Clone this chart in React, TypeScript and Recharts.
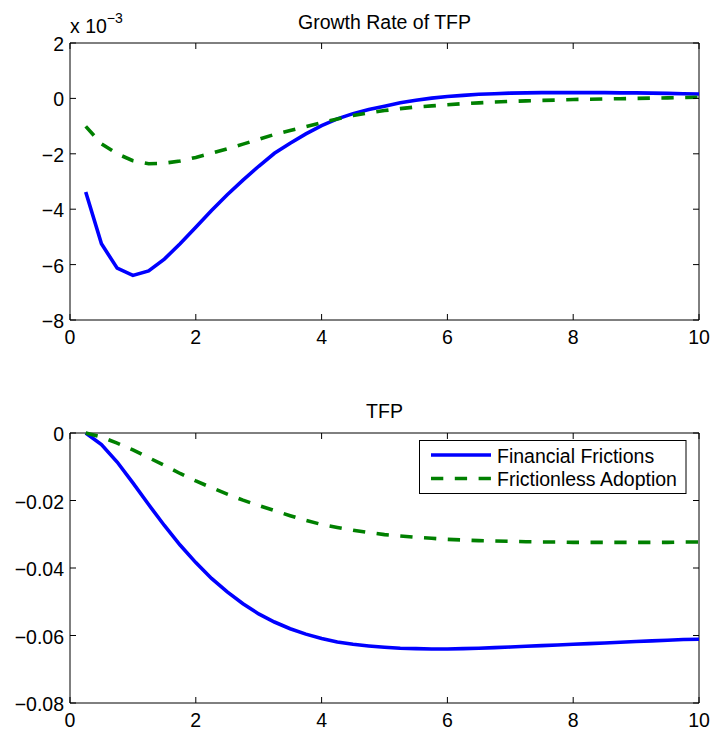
import React from "react";
import { LineChart, Line, XAxis, YAxis, Legend, ReferenceArea } from "recharts";

// Horizon in years (quarterly steps)
const quarters = [
  0.25, 0.5, 0.75, 1.0, 1.25, 1.5, 1.75, 2.0, 2.25, 2.5,
  2.75, 3.0, 3.25, 3.5, 3.75, 4.0, 4.25, 4.5, 4.75, 5.0,
  5.25, 5.5, 5.75, 6.0, 6.25, 6.5, 6.75, 7.0, 7.25, 7.5,
  7.75, 8.0, 8.25, 8.5, 8.75, 9.0, 9.25, 9.5, 9.75, 10.0,
];

// Growth rate of TFP, in units of 10^-3
const growthFrictions = [
  -3.38, -5.25, -6.13, -6.39, -6.23, -5.8, -5.25, -4.65, -4.05, -3.48,
  -2.95, -2.45, -1.98, -1.62, -1.28, -0.98, -0.74, -0.55, -0.4, -0.28,
  -0.16, -0.07, 0.01, 0.07, 0.11, 0.15, 0.17, 0.19, 0.2, 0.21,
  0.21, 0.21, 0.21, 0.21, 0.2, 0.2, 0.19, 0.18, 0.17, 0.16,
];
const growthFrictionless = [
  -1.01, -1.64, -2.0, -2.25, -2.36, -2.34, -2.26, -2.13, -1.98, -1.82,
  -1.65, -1.48, -1.3, -1.16, -1.02, -0.88, -0.74, -0.62, -0.52, -0.44,
  -0.37, -0.31, -0.27, -0.23, -0.19, -0.16, -0.13, -0.11, -0.09, -0.07,
  -0.06, -0.04, -0.03, -0.02, -0.01, 0.0, 0.01, 0.02, 0.03, 0.04,
];

// TFP level
const tfpFrictions = [
  0, -0.0034, -0.0086, -0.0148, -0.0212, -0.0274, -0.0332, -0.0384, -0.0431, -0.0471,
  -0.0506, -0.0536, -0.056, -0.058, -0.0596, -0.0609, -0.0619, -0.0626, -0.0631, -0.0635,
  -0.0638, -0.0639, -0.064, -0.064, -0.0639, -0.0638, -0.0636, -0.0634, -0.0632, -0.063,
  -0.0628, -0.0626, -0.0624, -0.0622, -0.062, -0.0618, -0.0616, -0.0614, -0.0612, -0.0611,
];
const tfpFrictionless = [
  0, -0.0012, -0.003, -0.005, -0.0073, -0.0096, -0.012, -0.0142, -0.0162, -0.0181,
  -0.0199, -0.0215, -0.023, -0.0245, -0.0259, -0.0271, -0.028, -0.0288, -0.0295, -0.0301,
  -0.0305, -0.0309, -0.0312, -0.0315, -0.0317, -0.0319, -0.032, -0.0321, -0.0322, -0.0323,
  -0.0323, -0.0324, -0.0324, -0.0324, -0.0324, -0.0324, -0.0324, -0.0324, -0.0323, -0.0323,
];

const xTicks = [0, 2, 4, 6, 8, 10];
const growthTicks = [-8, -6, -4, -2, 0, 2];
const tfpTicks = [-0.08, -0.06, -0.04, -0.02, 0];
const seriesNames = ["Financial Frictions", "Frictionless Adoption"];

const growthRows = quarters.map((t, i) => ({
  t,
  ff: growthFrictions[i],
  fa: growthFrictionless[i],
}));
const tfpRows = quarters.map((t, i) => ({
  t,
  ff: tfpFrictions[i],
  fa: tfpFrictionless[i],
}));

const FONT = '"Liberation Sans", Arial, Helvetica, sans-serif';
const FONT_SIZE = 19.5;
const BLUE = "#0000ff";
const GREEN = "#008000";
const DASH = "12.3 11.5";
const LINE_W = 3.6;
const TICK_LEN = 6;
const WIDTH = 713;
const PLOT_LEFT = 70;
const PLOT_RIGHT = 699;

const minus = (s: string) => s.replace("-", "\u2212");

function makeXTick(plotTop: number) {
  return (props: any) => {
    const { x, y, payload } = props;
    return (
      <g>
        <line x1={x} y1={y} x2={x} y2={y - TICK_LEN} stroke="#000" strokeWidth={1} />
        <line x1={x} y1={plotTop} x2={x} y2={plotTop + TICK_LEN} stroke="#000" strokeWidth={1} />
        <text x={x} y={y + 23.5} textAnchor="middle" fontSize={FONT_SIZE} fontFamily={FONT} fill="#000">
          {String(payload.value)}
        </text>
      </g>
    );
  };
}

function makeYTick(fmt: (v: number) => string) {
  return (props: any) => {
    const { x, y, payload } = props;
    return (
      <g>
        <line x1={x} y1={y} x2={x + TICK_LEN} y2={y} stroke="#000" strokeWidth={1} />
        <line x1={PLOT_RIGHT} y1={y} x2={PLOT_RIGHT - TICK_LEN} y2={y} stroke="#000" strokeWidth={1} />
        <text x={x - 6} y={y + 8} textAnchor="end" fontSize={FONT_SIZE} fontFamily={FONT} fill="#000">
          {fmt(payload.value)}
        </text>
      </g>
    );
  };
}

const fmtGrowth = (v: number) => minus(String(v));
const fmtTfp = (v: number) => (v === 0 ? "0" : minus(v.toFixed(2)));

function LegendBox(props: any) {
  const items = props.payload && props.payload.length ? props.payload : [];
  const rows = seriesNames.map((name, i) => {
    const item = items.find((p: any) => p.value === name);
    return {
      name,
      color: item ? item.color : i === 0 ? BLUE : GREEN,
      dashed: i === 1,
    };
  });
  return (
    <svg width={268} height={55} style={{ display: "block" }}>
      <rect x={0.5} y={0.5} width={266.5} height={53} fill="#fff" stroke="#000" strokeWidth={1} />
      {rows.map((r, i) => {
        const cy = i === 0 ? 15 : 38.5;
        return (
          <g key={r.name}>
            <line
              x1={12}
              x2={72}
              y1={cy}
              y2={cy}
              stroke={r.color}
              strokeWidth={LINE_W}
              strokeDasharray={r.dashed ? DASH : undefined}
            />
            <text x={78} y={cy + 7.5} fontSize={FONT_SIZE} fontFamily={FONT} fill="#000">
              {r.name}
            </text>
          </g>
        );
      })}
    </svg>
  );
}

export default function App() {
  return (
    <div
      style={{
        position: "absolute",
        left: 0,
        top: 0,
        width: WIDTH,
        height: 733,
        background: "#fff",
        fontFamily: FONT,
      }}
    >
      <div style={{ position: "absolute", left: 0, top: 0 }}>
        <LineChart
          width={WIDTH}
          height={366}
          data={growthRows}
          margin={{ top: 43, right: WIDTH - PLOT_RIGHT, bottom: 0, left: 0 }}
        >
          <XAxis
            dataKey="t"
            type="number"
            domain={[0, 10]}
            ticks={xTicks}
            height={46}
            axisLine={false}
            tickLine={false}
            tickSize={0}
            tickMargin={0}
            tick={makeXTick(43)}
            interval={0}
          />
          <YAxis
            type="number"
            domain={[-8, 2]}
            ticks={growthTicks}
            width={PLOT_LEFT}
            axisLine={false}
            tickLine={false}
            tickSize={0}
            tickMargin={0}
            tick={makeYTick(fmtGrowth)}
            interval={0}
          />
          <ReferenceArea x1={0} x2={10} y1={-8} y2={2} fill="none" fillOpacity={0} stroke="#000" strokeWidth={1} />
          <Line
            type="linear"
            dataKey="ff"
            name={seriesNames[0]}
            stroke={BLUE}
            strokeWidth={LINE_W}
            dot={false}
            activeDot={false}
            isAnimationActive={false}
          />
          <Line
            type="linear"
            dataKey="fa"
            name={seriesNames[1]}
            stroke={GREEN}
            strokeWidth={LINE_W}
            strokeDasharray={DASH}
            dot={false}
            activeDot={false}
            isAnimationActive={false}
          />
        </LineChart>
      </div>

      <div style={{ position: "absolute", left: 0, top: 366 }}>
        <LineChart
          width={WIDTH}
          height={367}
          data={tfpRows}
          margin={{ top: 67, right: WIDTH - PLOT_RIGHT, bottom: 0, left: 0 }}
        >
          <XAxis
            dataKey="t"
            type="number"
            domain={[0, 10]}
            ticks={xTicks}
            height={30}
            axisLine={false}
            tickLine={false}
            tickSize={0}
            tickMargin={0}
            tick={makeXTick(67)}
            interval={0}
          />
          <YAxis
            type="number"
            domain={[-0.08, 0]}
            ticks={tfpTicks}
            width={PLOT_LEFT}
            axisLine={false}
            tickLine={false}
            tickSize={0}
            tickMargin={0}
            tick={makeYTick(fmtTfp)}
            interval={0}
          />
          <ReferenceArea x1={0} x2={10} y1={-0.08} y2={0} fill="none" fillOpacity={0} stroke="#000" strokeWidth={1} />
          <Line
            type="linear"
            dataKey="ff"
            name={seriesNames[0]}
            stroke={BLUE}
            strokeWidth={LINE_W}
            dot={false}
            activeDot={false}
            isAnimationActive={false}
          />
          <Line
            type="linear"
            dataKey="fa"
            name={seriesNames[1]}
            stroke={GREEN}
            strokeWidth={LINE_W}
            strokeDasharray={DASH}
            dot={false}
            activeDot={false}
            isAnimationActive={false}
          />
          <Legend
            layout="vertical"
            align="center"
            verticalAlign="middle"
            wrapperStyle={{ left: 419, top: 74, width: 268, height: 55 }}
            content={LegendBox}
          />
        </LineChart>
      </div>

      <svg
        width={WIDTH}
        height={733}
        style={{ position: "absolute", left: 0, top: 0, pointerEvents: "none" }}
      >
        <text x={(PLOT_LEFT + PLOT_RIGHT) / 2} y={29} textAnchor="middle" fontSize={FONT_SIZE} fontFamily={FONT} fill="#000">
          Growth Rate of TFP
        </text>
        <text x={70} y={33} fontSize={FONT_SIZE} fontFamily={FONT} fill="#000">
          x 10
          <tspan dy={-10} fontSize={14}>
            {"\u22123"}
          </tspan>
        </text>
        <text x={(PLOT_LEFT + PLOT_RIGHT) / 2} y={418} textAnchor="middle" fontSize={FONT_SIZE} fontFamily={FONT} fill="#000">
          TFP
        </text>
      </svg>
    </div>
  );
}
